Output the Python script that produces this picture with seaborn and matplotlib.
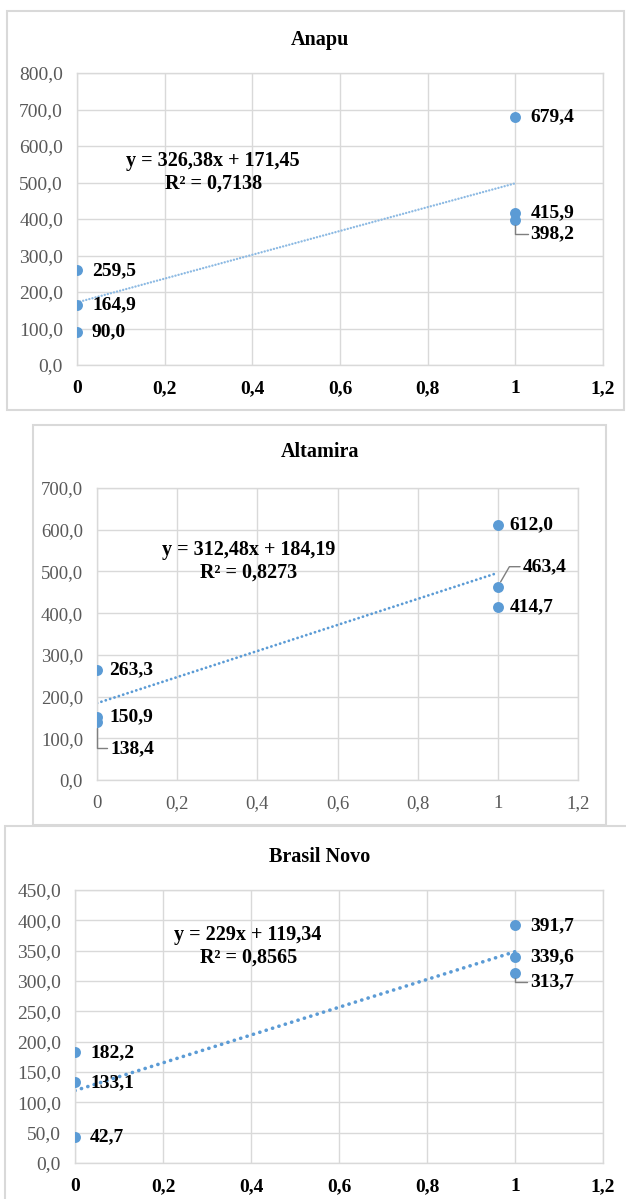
import numpy as np
import pandas as pd
import matplotlib
matplotlib.use("Agg")
import matplotlib.pyplot as plt
from matplotlib.patches import Rectangle
import seaborn as sns

# ---- data -------------------------------------------------------------
sites = ["Anapu", "Altamira", "Brasil Novo"]
x_groups = [0, 0, 0, 1, 1, 1]
anapu_values = [259.5, 164.9, 90.0, 679.4, 415.9, 398.2]
altamira_values = [263.3, 150.9, 138.4, 612.0, 463.4, 414.7]
brasil_novo_values = [182.2, 133.1, 42.7, 391.7, 339.6, 313.7]
site_values = [anapu_values, altamira_values, brasil_novo_values]

trend_slope = [326.38, 312.48, 229.0]
trend_intercept = [171.45, 184.19, 119.34]
trend_r2 = [0.7138, 0.8273, 0.8565]
trend_x = [0, 1]

y_max = [800, 700, 450]
y_step = [100, 100, 50]
x_ticks = [0, 0.2, 0.4, 0.6, 0.8, 1.0, 1.2]

# ---- styling ----------------------------------------------------------
sns.set_theme(style="white")
plt.rcParams["font.family"] = ["Liberation Serif", "DejaVu Serif"]

BLUE = "#5B9BD5"
GRID = "#D9D9D9"
TICK_GREY = "#595959"

W, H = 626, 1199
fig = plt.figure(figsize=(W / 100, H / 100), dpi=100)


def fig_rect(left, top, right, bottom):
    return [left / W, 1 - bottom / H, (right - left) / W, (bottom - top) / H]


def dec(v, fmt="g"):
    return format(v, fmt).replace(".", ",")


# per-panel layout in pixels: axes box, outer frame, title row
layout = [
    dict(axes=(77, 73, 603, 365), frame=(7, 11, 624, 410), title_y=40,
         xbold=True, eq=(0.259, 0.661), lw=1.7, gap=1.3, dx=15,
         line_color="#8DBAE3", tick_size=14),
    dict(axes=(97, 488, 578, 780), frame=(33, 425, 606, 825), title_y=452,
         xbold=False, eq=(0.316, 0.75), lw=2.0, gap=1.6, dx=12,
         line_color=BLUE, tick_size=13.5),
    dict(axes=(75, 890, 603, 1163), frame=(5, 826, 660, 1240), title_y=857,
         xbold=True, eq=(0.328, 0.793), lw=2.6, gap=1.8, dx=15,
         line_color=BLUE, tick_size=14),
]

# labels that sit away from their point, joined by a leader line
# (panel, index) -> (dx px, dy px, leader angle at the point)
leaders = {
    (0, 5): (15, -14, 90),
    (1, 2): (13, -26, 90),
    (1, 4): (25, 20, 60),
    (2, 5): (15, -9, 90),
}

PX = 0.72  # points per pixel at 100 dpi

for k, site in enumerate(sites):
    cfg = layout[k]
    fl, ft, fr, fb = cfg["frame"]
    fig.patches.append(Rectangle((fl / W, 1 - fb / H), (fr - fl) / W, (fb - ft) / H,
                                 transform=fig.transFigure, fill=False,
                                 edgecolor=GRID, linewidth=1.5, zorder=0))
    fig.text(320 / W, 1 - cfg["title_y"] / H, site, ha="center", va="center",
             fontsize=14.5, fontweight="bold", color="black")

    ax = fig.add_axes(fig_rect(*cfg["axes"]))
    df = pd.DataFrame({"x": x_groups, "y": site_values[k]})

    a, b = trend_slope[k], trend_intercept[k]
    trend = pd.DataFrame({"x": trend_x, "y": [a * t + b for t in trend_x]})
    sns.lineplot(data=trend, x="x", y="y", ax=ax, color=cfg["line_color"],
                 linewidth=cfg["lw"], linestyle=(0, (0.05, cfg["gap"])),
                 dash_capstyle="round", zorder=2)
    sns.scatterplot(data=df, x="x", y="y", ax=ax, color=BLUE, s=62,
                    linewidth=0, zorder=3)

    for i, (xv, yv) in enumerate(zip(x_groups, site_values[k])):
        txt = dec(yv, ".1f")
        if (k, i) in leaders:
            dx, dy, ang = leaders[(k, i)]
            ax.annotate(txt, xy=(xv, yv), xytext=(dx * PX, dy * PX),
                        textcoords="offset points", ha="left", va="center",
                        fontsize=14, fontweight="bold", color="black", zorder=4,
                        arrowprops=dict(arrowstyle="-", color="#7F7F7F", lw=1,
                                        connectionstyle=f"angle,angleA=0,angleB={ang},rad=0",
                                        relpos=(0, 0.5), patchA=None,
                                        shrinkA=2, shrinkB=4))
        else:
            ax.annotate(txt, xy=(xv, yv), xytext=(cfg["dx"] * PX, 0),
                        textcoords="offset points", ha="left", va="center",
                        fontsize=14, fontweight="bold", color="black", zorder=4)

    ax.text(cfg["eq"][0], cfg["eq"][1],
            f"y = {dec(a)}x + {dec(b)}\nR² = {dec(trend_r2[k], '.4f')}",
            transform=ax.transAxes, ha="center", va="center",
            multialignment="center", fontsize=14.5, fontweight="bold",
            color="black", linespacing=1.15, zorder=4)

    ax.set_xlim(0, 1.2)
    ax.set_ylim(0, y_max[k])
    yt = np.arange(0, y_max[k] + y_step[k] / 2, y_step[k])
    ax.set_yticks(yt)
    ax.set_yticklabels([dec(v, ".1f") for v in yt], fontsize=cfg["tick_size"],
                       color=TICK_GREY)
    ax.set_xticks(x_ticks)
    ax.set_xticklabels([dec(v) for v in x_ticks], fontsize=cfg["tick_size"],
                       fontweight="bold" if cfg["xbold"] else "normal",
                       color="black" if cfg["xbold"] else TICK_GREY)
    ax.tick_params(axis="both", length=0)
    ax.tick_params(axis="x", pad=11)
    ax.tick_params(axis="y", pad=10)
    ax.set_xlabel("")
    ax.set_ylabel("")
    ax.grid(True, color=GRID, linewidth=1)
    ax.set_axisbelow(True)
    for sp in ax.spines.values():
        sp.set_visible(True)
        sp.set_color(GRID)
        sp.set_linewidth(1)

fig.savefig("out.png", dpi=100, facecolor="white")
